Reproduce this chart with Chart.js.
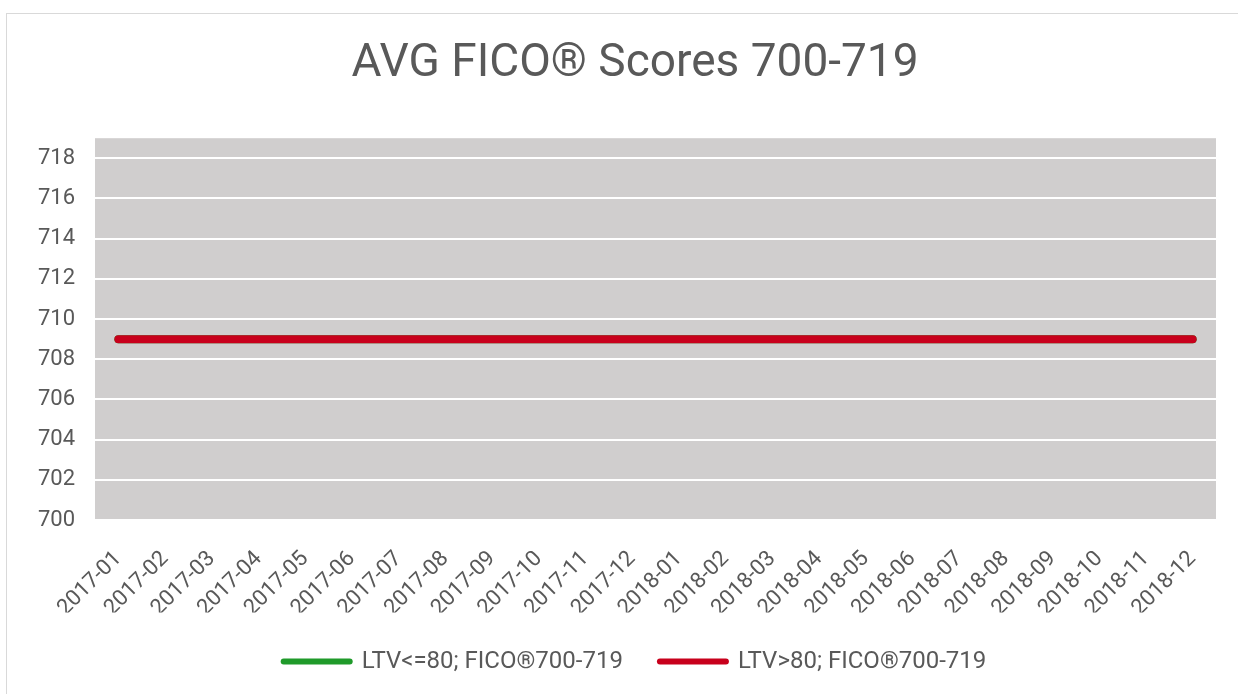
<!DOCTYPE html>
<html>
<head>
<meta charset="utf-8">
<script src="https://cdn.jsdelivr.net/npm/chart.js@4"></script>
<style>
  html, body { margin: 0; padding: 0; background: #fff; }
  #marco { position: absolute; left: 6px; top: 13px; width: 1250px; height: 700px; border: 1px solid #d9d9d9; }
  #caja { position: absolute; left: 0; top: 0; width: 1238px; height: 694px; }
</style>
</head>
<body>
<div id="marco"></div>
<div id="caja"><canvas id="ficoChart"></canvas></div>
<script>
const meses = ["2017-01", "2017-02", "2017-03", "2017-04", "2017-05", "2017-06",
    "2017-07", "2017-08", "2017-09", "2017-10", "2017-11", "2017-12",
    "2018-01", "2018-02", "2018-03", "2018-04", "2018-05", "2018-06",
    "2018-07", "2018-08", "2018-09", "2018-10", "2018-11", "2018-12"];

const ltvBajo = [709, 709, 709, 709, 709, 709, 709, 709, 709, 709, 709, 709,
    709, 709, 709, 709, 709, 709, 709, 709, 709, 709, 709, 709];

const ltvAlto = [709, 709, 709, 709, 709, 709, 709, 709, 709, 709, 709, 709,
    709, 709, 709, 709, 709, 709, 709, 709, 709, 709, 709, 709];

const yMin = 700;
const yMax = 719;
const yTicks = [700, 702, 704, 706, 708, 710, 712, 714, 716, 718];

const grisTexto = "#595959";

// fondo gris del area del grafico
const fondoArea = {
    id: "fondoArea",
    beforeDraw(chart) {
        const { ctx, chartArea } = chart;
        ctx.save();
        ctx.fillStyle = "#d0cece";
        ctx.fillRect(chartArea.left, chartArea.top, chartArea.right - chartArea.left, chartArea.bottom - chartArea.top);
        ctx.restore();
    }
};

const ctx = document.getElementById("ficoChart").getContext("2d");
new Chart(ctx, {
    type: "line",
    data: {
        labels: meses,
        datasets: [
            {
                label: "LTV>80; FICO®700-719",
                data: ltvAlto,
                borderColor: "#c8001c",
                backgroundColor: "#c8001c",
                borderWidth: 8,
                borderCapStyle: "round",
                pointRadius: 0,
                tension: 0
            },
            {
                label: "LTV<=80; FICO®700-719",
                data: ltvBajo,
                borderColor: "#1f9a2a",
                backgroundColor: "#1f9a2a",
                borderWidth: 8,
                borderCapStyle: "round",
                pointRadius: 0,
                tension: 0
            }
        ]
    },
    options: {
        responsive: true,
        maintainAspectRatio: false,
        animation: false,
        layout: { padding: { left: 54, right: 22, top: 0, bottom: 10.5 } },
        plugins: {
            title: {
                display: true,
                text: "AVG FICO® Scores 700-719",
                color: grisTexto,
                font: { family: "Roboto", size: 46, weight: "normal" },
                padding: { top: 37, bottom: 46 }
            },
            legend: {
                position: "bottom",
                reverse: true,
                labels: {
                    usePointStyle: true,
                    pointStyle: "line",
                    pointStyleWidth: 66,
                    padding: 37,
                    color: grisTexto,
                    font: { family: "Roboto", size: 24 },
                    generateLabels: chart => Chart.defaults.plugins.legend.labels.generateLabels(chart)
                        .map(item => ({ ...item, lineWidth: 6, lineCap: "round" }))
                }
            },
            tooltip: { enabled: false }
        },
        scales: {
            x: {
                offset: true,
                grid: { display: false },
                border: { display: false },
                ticks: {
                    color: grisTexto,
                    font: { family: "Roboto", size: 22 },
                    minRotation: 45,
                    maxRotation: 45,
                    padding: 18
                },
                afterFit: s => { s.height = 92.5; }
            },
            y: {
                min: yMin,
                max: yMax,
                grid: { color: "#ffffff", lineWidth: 2, drawTicks: false },
                border: { display: false },
                ticks: {
                    color: grisTexto,
                    font: { family: "Roboto", size: 22 },
                    mirror: true,
                    crossAlign: "near",
                    padding: -57
                },
                afterBuildTicks: s => { s.ticks = yTicks.map(v => ({ value: v })); },
                afterFit: s => { s.width = 41; }
            }
        }
    },
    plugins: [fondoArea]
});
</script>
</body>
</html>
